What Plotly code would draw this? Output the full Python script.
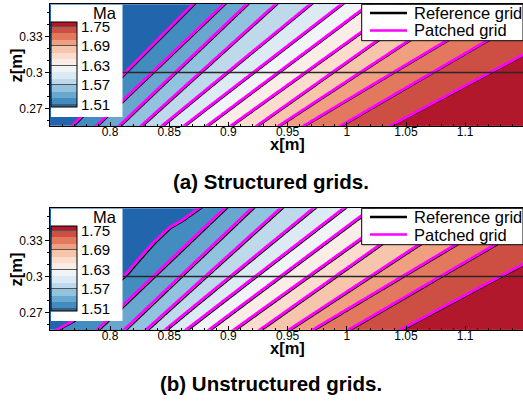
import numpy as np
import plotly.graph_objects as go

# ---------------- data ----------------
levels = [1.51, 1.53, 1.55, 1.57, 1.59, 1.61, 1.63, 1.65, 1.67, 1.69, 1.71, 1.73, 1.75]
cbar_range = [1.5026, 1.764]
cbar_ticks = [1.51, 1.57, 1.63, 1.69, 1.75]
x_ticks = [0.8, 0.85, 0.9, 0.95, 1.0, 1.05, 1.1]
x_ticktext = ["0.8", "0.85", "0.9", "0.95", "1", "1.05", "1.1"]
z_ticks = [0.27, 0.3, 0.33]
z_ticktext = ["0.27", "0.3", "0.33"]

# Panel (a) structured grids: x[m] where each Ma isoline crosses z = 0.26 m and z = 0.30 m
a_z_knots = [0.26, 0.30]
a_x_at_z026 = [0.7726, 0.7932, 0.8126, 0.8314, 0.8496, 0.8685, 0.8880, 0.9085, 0.9306, 0.9496, 0.9713, 1.0027, 1.0455]
a_x_at_z030 = [0.8127, 0.8355, 0.8549, 0.8760, 0.8988, 0.9208, 0.9419, 0.9647, 0.9875, 1.0111, 1.0390, 1.0720, 1.1209]
a_ref_shift = 0.0020   # reference-grid isolines lie slightly downstream

# Panel (b) unstructured grids
b_z_knots = [0.26, 0.30]
b_x_at_z026 = [0.7726, 0.7940, 0.8168, 0.8356, 0.8522, 0.8702, 0.8897, 0.9110, 0.9331, 0.9581, 0.9789, 1.0094, 1.0540]
b_x_at_z030 = [0.8127, 0.8363, 0.8591, 0.8802, 0.9014, 0.9225, 0.9436, 0.9672, 0.9900, 1.0196, 1.0466, 1.0787, 1.1294]
# the first (Ma = 1.51) isoline of panel (b) is visibly kinked: traced points (z, x)
b_line1_z = [0.2554, 0.2623, 0.3014, 0.3112, 0.3223, 0.3271, 0.3405, 0.3460, 0.3569]
b_line1_x = [0.7550, 0.7677, 0.8127, 0.8211, 0.8310, 0.8352, 0.8493, 0.8591, 0.8746]
b_ref_shift = 0.0025

# ---------------- styling ----------------
band_colors = [
    "rgb(33,102,172)", "rgb(67,140,192)", "rgb(106,167,206)", "rgb(146,195,222)",
    "rgb(190,217,234)", "rgb(219,234,243)", "rgb(240,244,247)", "rgb(250,237,230)",
    "rgb(252,220,204)", "rgb(247,196,172)", "rgb(240,160,128)", "rgb(226,120,94)",
    "rgb(205,78,67)", "rgb(178,24,43)",
]
n = len(band_colors) - 1
fill_scale = [[i / n, c] for i, c in enumerate(band_colors)]
bounds = [cbar_range[0]] + levels + [cbar_range[1]]
span = cbar_range[1] - cbar_range[0]
bar_scale = []
for k, c in enumerate(band_colors):
    bar_scale.append([(bounds[k] - cbar_range[0]) / span, c])
    bar_scale.append([(bounds[k + 1] - cbar_range[0]) / span, c])
bar_scale[0][0] = 0.0
bar_scale[-1][0] = 1.0

FONT = "Liberation Sans, Arial, Helvetica, sans-serif"
W, H = 523, 405
MAGENTA = "#ff00ff"

xg = np.linspace(0.745, 1.152, 340)
zg = np.linspace(0.2535, 0.3585, 121)


def line_x(z, zk, xk):
    """position of one isoline at height z (linear, extended beyond its traced ends)"""
    zk = np.asarray(zk, float)
    xk = np.asarray(xk, float)
    k = int(np.clip(np.searchsorted(zk, z) - 1, 0, len(zk) - 2))
    t = (z - zk[k]) / (zk[k + 1] - zk[k])
    return xk[k] + t * (xk[k + 1] - xk[k])


def build_field(lines):
    lev = np.asarray(levels, float)
    lev_ext = np.concatenate([[lev[0] - (lev[1] - lev[0])], lev, [lev[-1] + (lev[-1] - lev[-2])]])
    out = np.empty((len(zg), len(xg)))
    for j, z in enumerate(zg):
        xs = np.array([line_x(z, zk, xk) for zk, xk in lines])
        xs_ext = np.concatenate([[xs[0] - (xs[1] - xs[0])], xs, [xs[-1] + (xs[-1] - xs[-2])]])
        out[j] = np.interp(xg, xs_ext, lev_ext)
    return np.round(out, 5)


a_lines = [(a_z_knots, [lo, hi]) for lo, hi in zip(a_x_at_z026, a_x_at_z030)]
b_lines = [(b_z_knots, [lo, hi]) for lo, hi in zip(b_x_at_z026, b_x_at_z030)]
b_lines[0] = (b_line1_z, b_line1_x)

panels = [
    dict(xa="x", ya="y", lines=a_lines, shift=a_ref_shift, top=4.3,
         label="(a) Structured grids.", cap_y=181.5),
    dict(xa="x2", ya="y2", lines=b_lines, shift=b_ref_shift, top=208.3,
         label="(b) Unstructured grids.", cap_y=383.0),
]

fig = go.Figure()
shapes, annotations = [], []
contour_levels = dict(start=levels[0], end=levels[-1] + 1e-4, size=0.02)

for p in panels:
    Ma = build_field(p["lines"])
    off = p["top"] - 4.3
    fig.add_trace(go.Contour(
        x=xg, y=zg, z=Ma, xaxis=p["xa"], yaxis=p["ya"], showscale=False,
        autocontour=False, contours=dict(coloring="fill", showlines=False, **contour_levels),
        colorscale=fill_scale, line=dict(width=0), hoverinfo="skip",
    ))
    fig.add_trace(go.Contour(
        x=xg + p["shift"], y=zg, z=Ma, xaxis=p["xa"], yaxis=p["ya"], showscale=False,
        autocontour=False, contours=dict(coloring="none", showlines=True, **contour_levels),
        line=dict(color="black", width=1.3), hoverinfo="skip", name="Reference grid",
    ))
    fig.add_trace(go.Contour(
        x=xg, y=zg, z=Ma, xaxis=p["xa"], yaxis=p["ya"], showscale=False,
        autocontour=False, contours=dict(coloring="none", showlines=True, **contour_levels),
        line=dict(color=MAGENTA, width=2.8), hoverinfo="skip", name="Patched grid",
    ))
    # transparent colour-bar carrier so the bar spans exactly the read range
    fig.add_trace(go.Heatmap(
        z=[[cbar_range[0], cbar_range[1]]], x=[0.7, 0.71], y=[0.2, 0.21], xaxis=p["xa"], yaxis=p["ya"],
        opacity=0, hoverinfo="skip", colorscale=bar_scale, zmin=cbar_range[0], zmax=cbar_range[1],
        colorbar=dict(
            x=51 / W, xanchor="left", xpad=0, y=1 - (64.3 + off) / H, yanchor="middle", ypad=0,
            thickness=26, thicknessmode="pixels", len=85, lenmode="pixels",
            outlinewidth=1, outlinecolor="black", bgcolor="rgba(0,0,0,0)",
            tickvals=cbar_ticks, tickformat=".2f", ticks="inside", ticklen=26,
            tickcolor="rgb(85,85,85)", tickwidth=1.2, tickprefix="\u00a0" * 6,
            tickfont=dict(size=15, family=FONT, color="black"),
        ),
    ))

    yref = p["ya"]
    xdom = p["xa"] + " domain"
    shapes.append(dict(type="line", xref=xdom, x0=0, x1=1, yref=yref, y0=0.3, y1=0.3,
                       line=dict(color="rgb(40,40,40)", width=1.6), layer="above"))
    shapes.append(dict(type="rect", xref="paper", yref="paper", x0=51 / W, x1=122.5 / W,
                       y0=1 - (117 + off) / H, y1=1 - (4.8 + off) / H,
                       fillcolor="white", line=dict(width=0), layer="above"))
    shapes.append(dict(type="rect", xref="paper", yref="paper", x0=361.7 / W, x1=1.0,
                       y0=1 - (40.7 + off) / H, y1=1 - (4.3 + off) / H,
                       fillcolor="white", line=dict(color="black", width=1), layer="above"))
    for yy, col, txt in [(13.0, "black", "Reference grid"), (30.5, MAGENTA, "Patched grid")]:
        shapes.append(dict(type="line", xref="paper", yref="paper", x0=370 / W, x1=407 / W,
                           y0=1 - (yy + off) / H, y1=1 - (yy + off) / H,
                           line=dict(color=col, width=2.5), layer="above"))
        annotations.append(dict(text=txt, xref="paper", yref="paper", x=412 / W, y=1 - (yy + off) / H,
                                xanchor="left", yanchor="middle", showarrow=False,
                                font=dict(size=16.5, family=FONT, color="black")))
    annotations.append(dict(text="Ma", xref="paper", yref="paper", x=105 / W, y=1 - (12.7 + off) / H,
                            xanchor="center", yanchor="middle", showarrow=False,
                            font=dict(size=16.5, family=FONT, color="black")))
    annotations.append(dict(text="<b>z[m]</b>", xref="paper", yref="paper", x=15.5 / W, y=1 - (66 + off) / H,
                            xanchor="center", yanchor="middle", showarrow=False, textangle=-90,
                            font=dict(size=16.5, family=FONT, color="black")))
    annotations.append(dict(text="<b>x[m]</b>", xref="paper", yref="paper", x=287.5 / W, y=1 - (143.5 + off) / H,
                            xanchor="center", yanchor="middle", showarrow=False,
                            font=dict(size=16.5, family=FONT, color="black")))
    annotations.append(dict(text="<b>" + p["label"] + "</b>", xref="paper", yref="paper", x=271 / W,
                            y=1 - p["cap_y"] / H, xanchor="center", yanchor="middle", showarrow=False,
                            font=dict(size=20.5, family=FONT, color="black")))

axis_common = dict(showgrid=False, zeroline=False, showline=True, linecolor="black", linewidth=1,
                   tickfont=dict(size=12, family=FONT, color="black"), tickcolor="black")
xax = dict(axis_common, domain=[50 / W, 1.0], range=[0.74932, 1.14882], tickvals=x_ticks,
           ticktext=x_ticktext, ticks="inside", ticklen=4, mirror=True, ticklabelstandoff=-5,
           minor=dict(dtick=0.01, tick0=0.8, ticks="inside", ticklen=2, tickcolor="black"))
yax = dict(axis_common, range=[0.25548, 0.35707], tickvals=z_ticks, ticktext=z_ticktext,
           ticks="outside", ticklen=4,
           minor=dict(dtick=0.01, tick0=0.27, ticks="outside", ticklen=2, tickcolor="black"))

fig.update_layout(
    width=W, height=H, margin=dict(l=0, r=0, t=0, b=0),
    paper_bgcolor="white", plot_bgcolor="white", showlegend=False,
    xaxis=dict(xax, anchor="y"),
    yaxis=dict(yax, anchor="x", domain=[1 - 125.7 / H, 1 - 4.3 / H]),
    xaxis2=dict(xax, anchor="y2"),
    yaxis2=dict(yax, anchor="x2", domain=[1 - 329.7 / H, 1 - 208.3 / H]),
    shapes=shapes, annotations=annotations,
    font=dict(family=FONT, color="black"),
)

fig.write_html("out.html", config={"displayModeBar": False},
               post_script="document.body.style.margin='0';document.body.style.overflow='hidden';")
